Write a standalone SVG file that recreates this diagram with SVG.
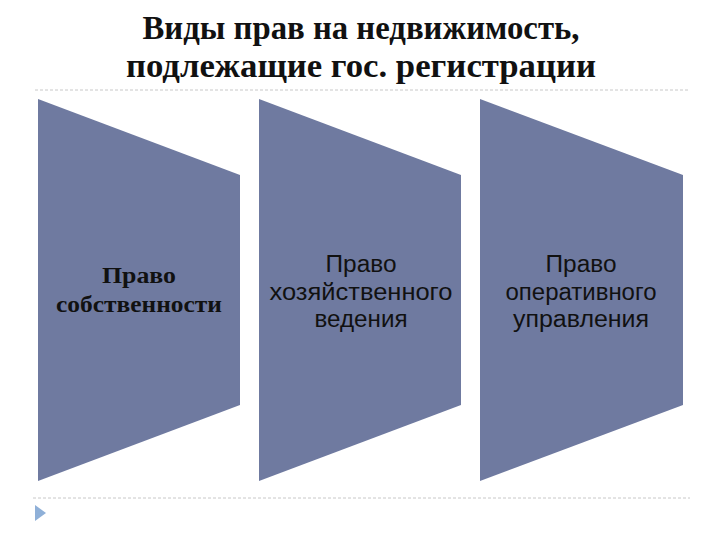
<svg xmlns="http://www.w3.org/2000/svg" width="720" height="540" viewBox="0 0 720 540">
<style>
.shape{fill:#6f7aa0}
.rule{stroke:#c8c8c8;stroke-width:1;stroke-dasharray:3 2}
.title{font-family:"Liberation Serif",serif;font-weight:bold;font-size:33px;fill:#111;text-anchor:middle}
.serif{font-family:"Liberation Serif",serif;font-weight:bold;font-size:24px;fill:#111;text-anchor:middle}
.sans{font-family:"Liberation Sans",Arial,sans-serif;font-size:23px;fill:#111;text-anchor:middle}
</style>
<rect width="720" height="540" fill="#fff"/>
<g id="title">
<text class="title" x="361" y="39" textLength="437" lengthAdjust="spacingAndGlyphs">Виды прав на недвижимость,</text>
<text class="title" x="361" y="77" textLength="470" lengthAdjust="spacingAndGlyphs">подлежащие гос. регистрации</text>
</g>
<line class="rule" x1="35" y1="90" x2="688" y2="90"/>
<line class="rule" x1="33" y1="498" x2="690" y2="498"/>
<polygon points="35,505 46,513 35,521" fill="#8fb0d8"/>
<g id="node1">
<polygon class="shape" points="38,99 240,175 240,405 38,481"/>
<text class="serif" x="139" y="283" textLength="74" lengthAdjust="spacingAndGlyphs">Право</text>
<text class="serif" x="139" y="312" textLength="166" lengthAdjust="spacingAndGlyphs">собственности</text>
</g>
<g id="node2">
<polygon class="shape" points="259,99 461,175 461,405 259,481"/>
<text class="sans" x="361" y="272" textLength="71" lengthAdjust="spacingAndGlyphs">Право</text>
<text class="sans" x="361" y="300" textLength="183" lengthAdjust="spacingAndGlyphs">хозяйственного</text>
<text class="sans" x="361" y="327" textLength="93" lengthAdjust="spacingAndGlyphs">ведения</text>
</g>
<g id="node3">
<polygon class="shape" points="480,99 683,175 683,405 480,481"/>
<text class="sans" x="581" y="272" textLength="71" lengthAdjust="spacingAndGlyphs">Право</text>
<text class="sans" x="581" y="300" textLength="151" lengthAdjust="spacingAndGlyphs">оперативного</text>
<text class="sans" x="581" y="327" textLength="136" lengthAdjust="spacingAndGlyphs">управления</text>
</g>
</svg>
